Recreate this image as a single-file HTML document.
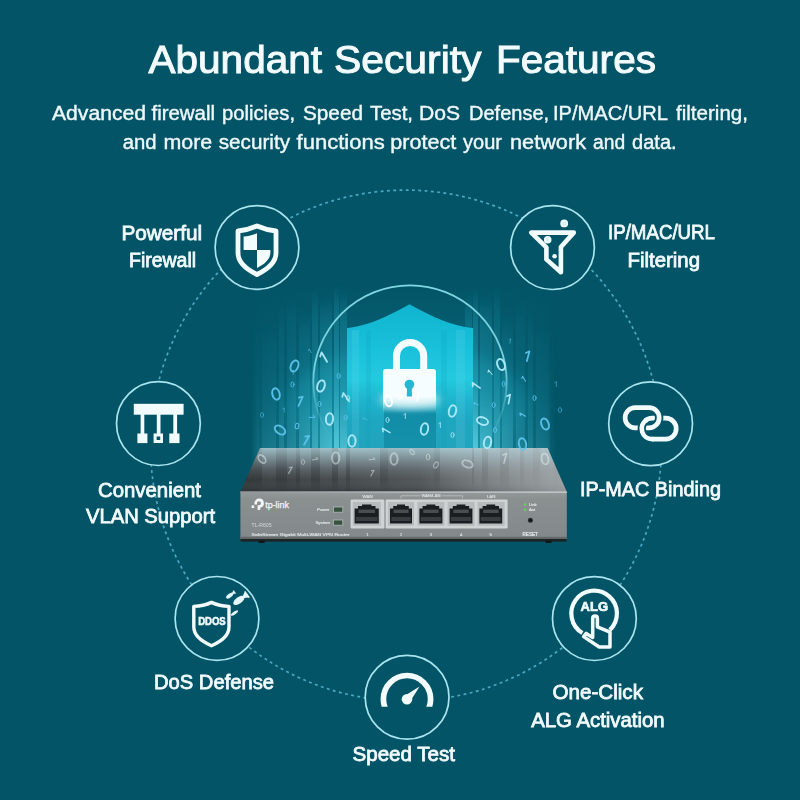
<!DOCTYPE html>
<html lang="en">
<head>
<meta charset="utf-8">
<title>Abundant Security Features</title>
<style>
html,body{margin:0;padding:0;background:#035466;}
body{width:800px;height:800px;overflow:hidden;font-family:"Liberation Sans",sans-serif;}
svg{display:block;}
text{font-family:"Liberation Sans",sans-serif;}
.lbl{font-size:20.5px;fill:#f2fafb;stroke:#f2fafb;stroke-width:.8px;}
.sub{font-size:20px;fill:#eef8fa;stroke:#eef8fa;stroke-width:.4px;}
.ttl{font-size:39.5px;fill:#f4fbfc;stroke:#f4fbfc;stroke-width:1px;}
.ring{fill:#035466;stroke:#a9e4ef;stroke-width:1.7;}
</style>
</head>
<body>
<svg width="800" height="800" viewBox="0 0 800 800">
<defs>
</defs>
<rect width="800" height="800" fill="#035466"/>

<!-- big dashed orbit -->
<circle cx="406" cy="445.6" r="255.5" fill="none" stroke="#4aa8c0" stroke-width="1.7" stroke-dasharray="2.9 3.4"/>

<!-- CENTER-ILLUSTRATION -->
<defs>
  <linearGradient id="beamV" x1="0" y1="0" x2="0" y2="1">
    <stop offset="0" stop-color="#2fbdd6" stop-opacity="0"/>
    <stop offset=".16" stop-color="#2fbdd6" stop-opacity=".32"/>
    <stop offset=".5" stop-color="#3cc6dc" stop-opacity=".55"/>
    <stop offset=".8" stop-color="#66d8ea" stop-opacity="1"/>
    <stop offset="1" stop-color="#66d8ea" stop-opacity="0"/>
  </linearGradient>
  <linearGradient id="washV" x1="0" y1="0" x2="0" y2="1">
    <stop offset="0" stop-color="#1fa6bf" stop-opacity="0"/>
    <stop offset=".4" stop-color="#1fa6bf" stop-opacity=".22"/>
    <stop offset=".8" stop-color="#2fb2c9" stop-opacity=".6"/>
    <stop offset="1" stop-color="#2fb2c9" stop-opacity="0"/>
  </linearGradient>
  <linearGradient id="fadeH" x1="0" y1="0" x2="1" y2="0">
    <stop offset="0" stop-color="#fff" stop-opacity="0"/>
    <stop offset=".03" stop-color="#fff" stop-opacity=".3"/>
    <stop offset=".12" stop-color="#fff" stop-opacity=".5"/>
    <stop offset=".27" stop-color="#fff" stop-opacity="1"/>
    <stop offset=".73" stop-color="#fff" stop-opacity="1"/>
    <stop offset=".88" stop-color="#fff" stop-opacity=".5"/>
    <stop offset=".97" stop-color="#fff" stop-opacity=".3"/>
    <stop offset="1" stop-color="#fff" stop-opacity="0"/>
  </linearGradient>
  <mask id="beamMask" maskUnits="userSpaceOnUse" x="240" y="270" width="330" height="230">
    <rect x="250" y="270" width="306" height="230" fill="url(#fadeH)"/>
  </mask>
  <linearGradient id="shieldG" gradientUnits="userSpaceOnUse" x1="0" y1="304" x2="0" y2="449">
    <stop offset="0" stop-color="#10b4d0"/>
    <stop offset=".3" stop-color="#19c0da"/>
    <stop offset=".52" stop-color="#23cadf"/>
    <stop offset=".66" stop-color="#1fb5ce"/>
    <stop offset=".8" stop-color="#1ea7c1"/>
    <stop offset="1" stop-color="#22a4bc"/>
  </linearGradient>
  <linearGradient id="colG" gradientUnits="userSpaceOnUse" x1="0" y1="400" x2="0" y2="449">
    <stop offset="0" stop-color="#0d819b" stop-opacity="0"/>
    <stop offset=".3" stop-color="#0d819b" stop-opacity=".7"/>
    <stop offset="1" stop-color="#0d819b" stop-opacity=".55"/>
  </linearGradient>
  <linearGradient id="lockG" gradientUnits="userSpaceOnUse" x1="0" y1="369" x2="0" y2="413">
    <stop offset="0" stop-color="#f6fdfe"/>
    <stop offset=".62" stop-color="#f6fdfe"/>
    <stop offset="1" stop-color="#f6fdfe" stop-opacity="0"/>
  </linearGradient>
  <linearGradient id="arcG" gradientUnits="userSpaceOnUse" x1="0" y1="285" x2="0" y2="450">
    <stop offset="0" stop-color="#8fe6f2" stop-opacity=".9"/>
    <stop offset=".5" stop-color="#8fe6f2" stop-opacity=".8"/>
    <stop offset=".72" stop-color="#8fe6f2" stop-opacity=".3"/>
    <stop offset=".95" stop-color="#8fe6f2" stop-opacity="0"/>
  </linearGradient>
  <linearGradient id="topG" x1="0" y1="0" x2="1" y2="0">
    <stop offset="0" stop-color="#34383a"/>
    <stop offset=".35" stop-color="#404446"/>
    <stop offset=".65" stop-color="#565a5c"/>
    <stop offset="1" stop-color="#7b8082"/>
  </linearGradient>
  <linearGradient id="topShade" x1="0" y1="0" x2="0" y2="1">
    <stop offset="0" stop-color="#a6c6cf" stop-opacity=".85"/>
    <stop offset=".25" stop-color="#94b0b9" stop-opacity=".55"/>
    <stop offset=".5" stop-color="#8596a0" stop-opacity=".22"/>
    <stop offset=".72" stop-color="#7d8e94" stop-opacity="0"/>
    <stop offset="1" stop-color="#1d2022" stop-opacity=".3"/>
  </linearGradient>
  <linearGradient id="topLight" x1="0" y1="0" x2="1" y2="0">
    <stop offset="0" stop-color="#b9bfc1" stop-opacity="0"/>
    <stop offset=".55" stop-color="#b9bfc1" stop-opacity="0"/>
    <stop offset="1" stop-color="#b9bfc1" stop-opacity=".55"/>
  </linearGradient>
  <linearGradient id="reflV" x1="0" y1="0" x2="0" y2="1">
    <stop offset="0" stop-color="#bfeaf2" stop-opacity=".55"/>
    <stop offset=".6" stop-color="#c9d6da" stop-opacity=".22"/>
    <stop offset="1" stop-color="#c9d6da" stop-opacity="0"/>
  </linearGradient>
  <linearGradient id="edgeG" x1="0" y1="0" x2="1" y2="0">
    <stop offset="0" stop-color="#8f9495"/>
    <stop offset=".5" stop-color="#b4b9ba"/>
    <stop offset="1" stop-color="#c3c8c9"/>
  </linearGradient>
  <clipPath id="topClip"><path d="M260,448 L547.5,448 L566.8,492 L240.4,492 Z"/></clipPath>
  <linearGradient id="frontG" x1="0" y1="0" x2="0" y2="1">
    <stop offset="0" stop-color="#959a9b"/>
    <stop offset=".15" stop-color="#8a8f90"/>
    <stop offset="1" stop-color="#83888a"/>
  </linearGradient>
  <filter id="b05"><feGaussianBlur stdDeviation=".5"/></filter>
  <filter id="b1" x="-20%" y="-20%" width="140%" height="140%"><feGaussianBlur stdDeviation="1.2"/></filter>
  <filter id="b3" x="-30%" y="-60%" width="160%" height="220%"><feGaussianBlur stdDeviation="4"/></filter>
  <filter id="b6" x="-30%" y="-30%" width="160%" height="160%"><feGaussianBlur stdDeviation="8"/></filter>
</defs>

<!-- soft glow behind -->
<ellipse cx="408" cy="405" rx="120" ry="58" fill="#0b8aa3" opacity=".4" filter="url(#b6)"/>

<!-- light beams -->
<rect x="246" y="283" width="316" height="207" fill="url(#washV)" mask="url(#beamMask)"/>
<g mask="url(#beamMask)" filter="url(#b05)">
  <g fill="url(#beamV)">
    <rect x="252" y="318" width="7" height="172" opacity="0.3"/>
    <rect x="262" y="322" width="14" height="168" opacity="0.42"/>
    <rect x="279" y="300" width="5" height="190" opacity="0.45"/>
    <rect x="287" y="292" width="9" height="198" opacity="0.38"/>
    <rect x="299" y="310" width="11" height="180" opacity="0.5"/>
    <rect x="312" y="286" width="6" height="204" opacity="0.55"/>
    <rect x="320" y="296" width="12" height="194" opacity="0.6"/>
    <rect x="334" y="284" width="5" height="206" opacity="0.75"/>
    <rect x="340" y="288" width="7" height="202" opacity="0.6"/>
    <rect x="553" y="321" width="7" height="169" opacity="0.3"/>
    <rect x="536" y="320" width="14" height="170" opacity="0.42"/>
    <rect x="528" y="303" width="5" height="187" opacity="0.45"/>
    <rect x="516" y="295" width="9" height="195" opacity="0.38"/>
    <rect x="502" y="313" width="11" height="177" opacity="0.5"/>
    <rect x="494" y="284" width="6" height="206" opacity="0.55"/>
    <rect x="480" y="294" width="12" height="196" opacity="0.6"/>
    <rect x="473" y="287" width="5" height="203" opacity="0.75"/>
    <rect x="465" y="291" width="7" height="199" opacity="0.6"/>
  </g>
</g>

<!-- thin halo arc -->
<circle cx="410" cy="382" r="96.7" fill="none" stroke="url(#arcG)" stroke-width="1.8"/>

<!-- shield -->
<path d="M347,328 C362,326.5 380,321 409.5,304.2 C439,321 458,326.5 473,328 L473,449 L347,449 Z" fill="url(#shieldG)"/>
<!-- streaks in shield -->
<rect x="384" y="400" width="52" height="49" fill="url(#colG)"/>
<g>
  <rect x="352" y="330" width="7" height="119" fill="#9fe9f3" opacity=".12"/>
  <rect x="366" y="330" width="5" height="119" fill="#0a9ab5" opacity=".18"/>
  <rect x="441" y="330" width="6" height="119" fill="#0a9ab5" opacity=".18"/>
  <rect x="456" y="330" width="9" height="119" fill="#9fe9f3" opacity=".12"/>
</g>

<!-- lock -->
<ellipse cx="410" cy="400" rx="30" ry="7" fill="#ffffff" opacity=".7" filter="url(#b3)"/>
<path d="M396.5,371 V356 A13.6,13.6 0 0 1 423.7,356 V371" fill="none" stroke="#f4fdfe" stroke-width="7"/>
<path d="M386,369 H433 a3,3 0 0 1 3,3 V413 H383 V372 a3,3 0 0 1 3,-3 Z" fill="url(#lockG)"/>
<circle cx="409.4" cy="384.5" r="4.8" fill="#20b8d2"/>
<path d="M407.2,386 L406.8,396.6 H412 L411.6,386 Z" fill="#20b8d2"/>

<!-- ROUTER -->
<g id="router">
  <!-- shadow under -->
  <rect x="240.5" y="538" width="326" height="3.6" fill="#1d2324"/>
  <rect x="258.5" y="540.6" width="6" height="2.4" fill="#12171a"/>
  <rect x="545.5" y="540.6" width="6" height="2.4" fill="#12171a"/>
  <!-- top surface -->
  <path id="rtop" d="M260,448 L547.5,448 L566.8,492 L240.4,492 Z" fill="url(#topG)"/>
  <path d="M260,448 L547.5,448 L566.8,492 L240.4,492 Z" fill="url(#topShade)"/>
  <path d="M260,448 L547.5,448 L566.8,492 L240.4,492 Z" fill="url(#topLight)"/>
  <!-- beam reflections on top -->
  <g clip-path="url(#topClip)" fill="url(#reflV)">
    <rect x="262" y="448" width="14" height="44" opacity=".35"/>
    <rect x="287" y="448" width="9" height="44" opacity=".3"/>
    <rect x="300" y="448" width="11" height="44" opacity=".4"/>
    <rect x="320" y="448" width="12" height="44" opacity=".45"/>
    <rect x="338" y="448" width="8" height="44" opacity=".5"/>
    <rect x="350" y="448" width="30" height="44" opacity=".45"/>
    <rect x="388" y="448" width="46" height="44" opacity=".25"/>
    <rect x="440" y="448" width="32" height="44" opacity=".45"/>
    <rect x="474" y="448" width="8" height="44" opacity=".5"/>
    <rect x="488" y="448" width="12" height="44" opacity=".45"/>
    <rect x="509" y="448" width="11" height="44" opacity=".4"/>
    <rect x="524" y="448" width="9" height="44" opacity=".3"/>
    <rect x="540" y="448" width="14" height="44" opacity=".3"/>
  </g>
  <!-- front face -->
  <rect x="240.4" y="491.6" width="326.4" height="47.4" fill="url(#frontG)"/>
  <rect x="240.4" y="491.4" width="326.4" height="1.5" fill="url(#edgeG)"/>
  <rect x="240.4" y="536.8" width="326.4" height="2.2" fill="#62676a"/>
  <!-- port frames -->
  <rect x="350.6" y="499.6" width="33.8" height="28.8" rx="1.2" fill="#cfd3d4"/>
  <rect x="385.6" y="499.6" width="122" height="28.8" rx="1.2" fill="#cfd3d4"/>
  <g fill="#b7bbbc">
    <rect x="352.8" y="502" width="28" height="23.8"/>
    <rect x="388" y="502" width="26" height="23.8"/>
    <rect x="417.4" y="502" width="27" height="23.8"/>
    <rect x="447.6" y="502" width="27" height="23.8"/>
    <rect x="477.6" y="502" width="27" height="23.8"/>
  </g>
  <g fill="#1b1e20">
    <path d="M354.6,523.6 V508.5 H358 V506 H362 V504.4 H371.5 V506 H375.5 V508.5 H378.8 V523.6 Z"/>
    <path d="M390,523.6 V508.5 H393.2 V506 H397 V504.4 H405 V506 H408.8 V508.5 H412 V523.6 Z"/>
    <path d="M419.4,523.6 V508.5 H422.6 V506 H426.4 V504.4 H435.4 V506 H439.2 V508.5 H442.4 V523.6 Z"/>
    <path d="M449.6,523.6 V508.5 H452.8 V506 H456.6 V504.4 H465.4 V506 H469.2 V508.5 H472.4 V523.6 Z"/>
    <path d="M479.4,523.6 V508.5 H482.6 V506 H486.4 V504.4 H495.2 V506 H499 V508.5 H502.2 V523.6 Z"/>
  </g>
  <g fill="#4a4e50">
    <rect x="358.5" y="509.6" width="16.5" height="3.4"/>
    <rect x="393.6" y="509.6" width="15" height="3.4"/>
    <rect x="423.2" y="509.6" width="15.4" height="3.4"/>
    <rect x="453.4" y="509.6" width="15.4" height="3.4"/>
    <rect x="483.2" y="509.6" width="15.4" height="3.4"/>
  </g>
  <g fill="#3a3d3f">
    <rect x="356" y="517" width="21.4" height="4"/>
    <rect x="391.4" y="517" width="19.2" height="4"/>
    <rect x="420.8" y="517" width="20.2" height="4"/>
    <rect x="451" y="517" width="20" height="4"/>
    <rect x="480.8" y="517" width="20" height="4"/>
  </g>
  <!-- labels on front -->
  <g fill="#e9edee" stroke="#e9edee" stroke-width=".15" font-size="4.4" text-anchor="middle" opacity=".85">
    <text x="367.6" y="498">WAN</text>
    <text x="431" y="497.4" font-size="4.2">WAN/LAN</text>
    <text x="491.2" y="498">LAN</text>
    <text x="367.4" y="535.6">1</text><text x="401" y="535.6">2</text><text x="431" y="535.6">3</text><text x="461.2" y="535.6">4</text><text x="490.8" y="535.6">5</text>
  </g>
  <path d="M401,498.4 V495.8 H420 M442,495.8 H462.6 V498.4" fill="none" stroke="#dfe3e4" stroke-width=".6" opacity=".8"/>
  <!-- tp-link logo -->
  <g fill="#f4f6f6">
    <path d="M259,498.6 a4.6,4.6 0 0 0 -4.6,4.6 v1.4 h2.6 v-1.4 a2,2 0 1 1 2,2 h-1.4 v4.8 h2.6 v-2.3 a4.6,4.6 0 0 0 -1.2,-9.1 Z"/>
    <path d="M251.6,505.4 h2.6 v2.6 h-2.6 Z"/>
    <text x="265.2" y="508" font-size="9" stroke="#f4f6f6" stroke-width=".25" textLength="23.8" lengthAdjust="spacingAndGlyphs">tp-link</text>
  </g>
  <text x="251.6" y="526.6" font-size="5.2" fill="#e6eaeb" opacity=".8" textLength="20" lengthAdjust="spacingAndGlyphs">TL-R605</text>
  <text x="251.6" y="535.6" font-size="4.4" fill="#f1f4f4" stroke="#f1f4f4" stroke-width=".15" opacity=".85" textLength="98" lengthAdjust="spacingAndGlyphs">SafeStream Gigabit Multi-WAN VPN Router</text>
  <text x="317" y="511.4" font-size="4.4" fill="#f1f4f4" stroke="#f1f4f4" stroke-width=".15" opacity=".85">Power</text>
  <text x="315.4" y="524.4" font-size="4.4" fill="#f1f4f4" stroke="#f1f4f4" stroke-width=".15" opacity=".85">System</text>
  <rect x="333.4" y="507" width="9.4" height="5.2" fill="#35523f" stroke="#b3b8b8" stroke-width=".8"/>
  <rect x="333.4" y="520" width="9.4" height="5.2" fill="#35523f" stroke="#b3b8b8" stroke-width=".8"/>
  <!-- right side leds/reset -->
  <circle cx="525" cy="504.6" r="1.4" fill="#6cc66e"/>
  <circle cx="525" cy="509.8" r="1.4" fill="#6cc66e"/>
  <text x="529" y="506" font-size="4.2" fill="#eef1f1" stroke="#eef1f1" stroke-width=".15" opacity=".9">Link</text>
  <text x="529" y="511.4" font-size="4.2" fill="#eef1f1" stroke="#eef1f1" stroke-width=".15" opacity=".9">Act</text>
  <circle cx="530.4" cy="520.2" r="2.5" fill="#2a2d2f"/>
  <circle cx="530.4" cy="520.2" r="1.2" fill="#0f1112"/>
  <text x="530.2" y="535.8" font-size="4.6" fill="#f1f4f4" stroke="#f1f4f4" stroke-width=".2" text-anchor="middle" opacity=".9">RESET</text>
</g>
<!-- DIGITS -->
<g fill="none" stroke-linecap="round" stroke-linejoin="round">
<ellipse rx="3.60" ry="5.76" transform="translate(294.5 366) rotate(22)" stroke="#5cc4ec" stroke-width="2.00" opacity="0.95"/>
<path d="M-2.55,-2.70 L0.75,-5.40 V5.40" transform="translate(323.7 357.5) rotate(-30)" stroke="#aeeaf8" stroke-width="1.88" opacity="0.95"/>
<ellipse rx="3.60" ry="5.76" transform="translate(321 386) rotate(18)" stroke="#aeeaf8" stroke-width="2.00" opacity="0.95"/>
<ellipse rx="3.60" ry="5.76" transform="translate(276 394) rotate(-15)" stroke="#5cc4ec" stroke-width="2.00" opacity="0.95"/>
<path d="M-2.38,-2.52 L0.70,-5.04 V5.04" transform="translate(300 401) rotate(25)" stroke="#5cc4ec" stroke-width="1.75" opacity="0.95"/>
<ellipse rx="1.57" ry="2.52" transform="translate(292.5 384.5) rotate(0)" stroke="#5cc4ec" stroke-width="0.88" opacity="0.95"/>
<ellipse rx="1.57" ry="2.52" transform="translate(338.7 376) rotate(0)" stroke="#5cc4ec" stroke-width="0.88" opacity="0.95"/>
<ellipse rx="1.57" ry="2.52" transform="translate(319.5 404) rotate(0)" stroke="#5cc4ec" stroke-width="0.88" opacity="0.95"/>
<path d="M-2.38,-2.52 L0.70,-5.04 V5.04" transform="translate(345.7 397.5) rotate(-35)" stroke="#aeeaf8" stroke-width="1.75" opacity="0.95"/>
<ellipse rx="3.60" ry="5.76" transform="translate(329.5 419) rotate(5)" stroke="#aeeaf8" stroke-width="2.00" opacity="0.95"/>
<ellipse rx="3.60" ry="5.76" transform="translate(280 430) rotate(-55)" stroke="#5cc4ec" stroke-width="2.00" opacity="0.95"/>
<ellipse rx="1.80" ry="2.88" transform="translate(297 426) rotate(10)" stroke="#5cc4ec" stroke-width="1.00" opacity="0.95"/>
<path d="M-2.38,-2.52 L0.70,-5.04 V5.04" transform="translate(306 440) rotate(30)" stroke="#5cc4ec" stroke-width="1.75" opacity="0.95"/>
<ellipse rx="3.60" ry="5.76" transform="translate(352 441) rotate(0)" stroke="#aeeaf8" stroke-width="2.00" opacity="0.95"/>
<ellipse rx="1.57" ry="2.52" transform="translate(345.7 417.5) rotate(0)" stroke="#5cc4ec" stroke-width="0.88" opacity="0.95"/>
<ellipse rx="3.38" ry="5.40" transform="translate(388.5 401) rotate(-15)" stroke="#ffffff" stroke-width="1.88" opacity="1"/>
<ellipse rx="1.57" ry="2.52" transform="translate(400 397) rotate(30)" stroke="#ffffff" stroke-width="0.88" opacity="1"/>
<path d="M-2.04,-2.16 L0.60,-4.32 V4.32" transform="translate(417.5 396.5) rotate(15)" stroke="#ffffff" stroke-width="1.50" opacity="1"/>
<ellipse rx="1.57" ry="2.52" transform="translate(387.5 420) rotate(0)" stroke="#aeeaf8" stroke-width="0.88" opacity="0.95"/>
<path d="M-2.04,-2.16 L0.60,-4.32 V4.32" transform="translate(386 431) rotate(-60)" stroke="#aeeaf8" stroke-width="1.50" opacity="0.95"/>
<ellipse rx="3.60" ry="5.76" transform="translate(424.5 429) rotate(10)" stroke="#aeeaf8" stroke-width="2.00" opacity="0.95"/>
<path d="M-1.19,-1.26 L0.35,-2.52 V2.52" transform="translate(405 416) rotate(0)" stroke="#aeeaf8" stroke-width="0.88" opacity="0.95"/>
<path d="M-1.02,-1.08 L0.30,-2.16 V2.16" transform="translate(310 351) rotate(-30)" stroke="#5cc4ec" stroke-width="0.85" opacity="0.6"/>
<path d="M-1.02,-1.08 L0.30,-2.16 V2.16" transform="translate(365 419) rotate(-60)" stroke="#5cc4ec" stroke-width="0.85" opacity="0.6"/>
<path d="M-1.02,-1.08 L0.30,-2.16 V2.16" transform="translate(293 372.5) rotate(0)" stroke="#5cc4ec" stroke-width="0.85" opacity="0.6"/>
<path d="M-1.02,-1.08 L0.30,-2.16 V2.16" transform="translate(284 410) rotate(0)" stroke="#5cc4ec" stroke-width="0.85" opacity="0.6"/>
<path d="M-1.36,-1.44 L0.40,-2.88 V2.88" transform="translate(312 417) rotate(90)" stroke="#5cc4ec" stroke-width="1.00" opacity="0.95"/>
<ellipse rx="3.60" ry="5.76" transform="translate(501 364.5) rotate(-20)" stroke="#aeeaf8" stroke-width="2.00" opacity="0.95"/>
<path d="M-2.38,-2.52 L0.70,-5.04 V5.04" transform="translate(527.5 356) rotate(15)" stroke="#5cc4ec" stroke-width="1.75" opacity="0.95"/>
<path d="M-1.36,-1.44 L0.40,-2.88 V2.88" transform="translate(490 372.5) rotate(-40)" stroke="#aeeaf8" stroke-width="1.00" opacity="0.95"/>
<path d="M-1.02,-1.08 L0.30,-2.16 V2.16" transform="translate(510 341) rotate(10)" stroke="#5cc4ec" stroke-width="0.85" opacity="0.6"/>
<path d="M-2.21,-2.34 L0.65,-4.68 V4.68" transform="translate(476 386) rotate(-55)" stroke="#aeeaf8" stroke-width="1.62" opacity="0.95"/>
<ellipse rx="1.57" ry="2.52" transform="translate(503.7 384) rotate(0)" stroke="#5cc4ec" stroke-width="0.88" opacity="0.95"/>
<path d="M-1.36,-1.44 L0.40,-2.88 V2.88" transform="translate(523.7 379) rotate(-30)" stroke="#5cc4ec" stroke-width="1.00" opacity="0.95"/>
<ellipse rx="1.57" ry="2.52" transform="translate(534.5 398) rotate(0)" stroke="#5cc4ec" stroke-width="0.88" opacity="0.95"/>
<path d="M-2.21,-2.34 L0.65,-4.68 V4.68" transform="translate(508.7 399) rotate(10)" stroke="#aeeaf8" stroke-width="1.62" opacity="0.95"/>
<ellipse rx="3.60" ry="5.76" transform="translate(452.5 411) rotate(12)" stroke="#aeeaf8" stroke-width="2.00" opacity="0.95"/>
<ellipse rx="1.57" ry="2.52" transform="translate(493.7 405) rotate(0)" stroke="#5cc4ec" stroke-width="0.88" opacity="0.95"/>
<path d="M-1.19,-1.26 L0.35,-2.52 V2.52" transform="translate(476 404) rotate(-60)" stroke="#5cc4ec" stroke-width="0.88" opacity="0.95"/>
<ellipse rx="3.60" ry="5.76" transform="translate(482.5 421) rotate(-70)" stroke="#aeeaf8" stroke-width="2.00" opacity="0.95"/>
<ellipse rx="3.60" ry="5.76" transform="translate(545 424) rotate(-20)" stroke="#5cc4ec" stroke-width="2.00" opacity="0.95"/>
<path d="M-1.53,-1.62 L0.45,-3.24 V3.24" transform="translate(522.5 415) rotate(-60)" stroke="#5cc4ec" stroke-width="1.12" opacity="0.95"/>
<ellipse rx="1.57" ry="2.52" transform="translate(495 430) rotate(0)" stroke="#5cc4ec" stroke-width="0.88" opacity="0.95"/>
<ellipse rx="1.57" ry="2.52" transform="translate(452.5 435) rotate(0)" stroke="#aeeaf8" stroke-width="0.88" opacity="0.95"/>
<ellipse rx="3.60" ry="5.76" transform="translate(487.5 442.5) rotate(10)" stroke="#aeeaf8" stroke-width="2.00" opacity="0.95"/>
<ellipse rx="3.60" ry="5.76" transform="translate(522.5 444) rotate(-10)" stroke="#5cc4ec" stroke-width="2.00" opacity="0.95"/>
<ellipse rx="1.57" ry="2.52" transform="translate(348 398) rotate(0)" stroke="#aeeaf8" stroke-width="0.88" opacity="0.95"/>
<ellipse rx="1.57" ry="2.52" transform="translate(560 410) rotate(0)" stroke="#5cc4ec" stroke-width="0.88" opacity="0.6"/>
<path d="M-1.19,-1.26 L0.35,-2.52 V2.52" transform="translate(556 384) rotate(0)" stroke="#5cc4ec" stroke-width="0.88" opacity="0.6"/>
<ellipse rx="1.57" ry="2.52" transform="translate(262 415) rotate(0)" stroke="#5cc4ec" stroke-width="0.88" opacity="0.6"/>
<path d="M-1.19,-1.26 L0.35,-2.52 V2.52" transform="translate(440 425) rotate(0)" stroke="#aeeaf8" stroke-width="0.88" opacity="0.95"/>
</g>
<g fill="none" stroke-linecap="round" stroke-linejoin="round" opacity=".5" filter="url(#b05)">
<ellipse rx="3.60" ry="5.76" transform="translate(335.7 458) rotate(0)" stroke="#e4eef1" stroke-width="2.00" opacity="1"/>
<ellipse rx="3.60" ry="5.76" transform="translate(394 459) rotate(0)" stroke="#e4eef1" stroke-width="2.00" opacity="1"/>
<ellipse rx="3.38" ry="5.40" transform="translate(467.5 464) rotate(-70)" stroke="#e4eef1" stroke-width="1.88" opacity="1"/>
<ellipse rx="3.38" ry="5.40" transform="translate(545 459) rotate(-10)" stroke="#e4eef1" stroke-width="1.88" opacity="1"/>
<path d="M-2.38,-2.52 L0.70,-5.04 V5.04" transform="translate(504.6 458) rotate(15)" stroke="#e4eef1" stroke-width="1.75" opacity="1"/>
<ellipse rx="2.93" ry="4.68" transform="translate(262 459) rotate(-40)" stroke="#e4eef1" stroke-width="1.62" opacity="1"/>
<path d="M-1.70,-1.80 L0.50,-3.60 V3.60" transform="translate(290 470) rotate(30)" stroke="#e4eef1" stroke-width="1.25" opacity="1"/>
<ellipse rx="1.57" ry="2.52" transform="translate(303 462) rotate(0)" stroke="#e4eef1" stroke-width="0.88" opacity="1"/>
<path d="M-1.53,-1.62 L0.45,-3.24 V3.24" transform="translate(372 473) rotate(30)" stroke="#e4eef1" stroke-width="1.12" opacity="1"/>
<ellipse rx="1.80" ry="2.88" transform="translate(428 457) rotate(0)" stroke="#e4eef1" stroke-width="1.00" opacity="1"/>
<ellipse rx="1.80" ry="2.88" transform="translate(412 452) rotate(-40)" stroke="#e4eef1" stroke-width="1.00" opacity="1"/>
<ellipse rx="2.02" ry="3.24" transform="translate(436 465) rotate(30)" stroke="#e4eef1" stroke-width="1.12" opacity="1"/>
<path d="M-1.36,-1.44 L0.40,-2.88 V2.88" transform="translate(315 459) rotate(80)" stroke="#e4eef1" stroke-width="1.00" opacity="1"/>
<path d="M-1.36,-1.44 L0.40,-2.88 V2.88" transform="translate(372 459) rotate(85)" stroke="#e4eef1" stroke-width="1.00" opacity="1"/>
</g>

<!-- feature rings -->
<circle class="ring" cx="257" cy="247.5" r="41.9"/>
<circle class="ring" cx="552.5" cy="247.6" r="41.9"/>
<circle class="ring" cx="158.4" cy="423.6" r="41.9"/>
<circle class="ring" cx="650.6" cy="423.8" r="41.9"/>
<circle class="ring" cx="217" cy="618.4" r="41.9"/>
<circle class="ring" cx="594.4" cy="618.6" r="41.9"/>
<circle class="ring" cx="407.1" cy="697.3" r="41.9"/>

<!-- ICONS -->
<g id="icons" stroke-linejoin="round" stroke-linecap="round">
  <!-- firewall shield -->
  <path d="M257,226 C263,228.6 270,230.4 276,231 V253 C276,262.5 267,269.6 257,274.5 C247,269.6 238,262.5 238,253 V231 C244,230.4 251,228.6 257,226 Z" fill="none" stroke="#f3fcfd" stroke-width="4.8"/>
  <path d="M257,233.2 C252.5,235.2 248,236.2 243.6,236.5 V250 H257 Z" fill="#f3fcfd"/>
  <path d="M257,250 H270.4 V252.6 C270.4,259.6 264,264.6 257,268 Z" fill="#f3fcfd"/>

  <!-- funnel -->
  <path d="M531.3,232.6 H573.8 L560.9,247 V272.2 L546.4,259.4 V247.4 Z" fill="none" stroke="#f3fcfd" stroke-width="4.6"/>
  <circle cx="564.2" cy="223.4" r="3" fill="#d9f3f7" stroke="#f3fcfd" stroke-width="1.8"/>
  <circle cx="547.7" cy="239.8" r="2.9" fill="#d9f3f7" stroke="#f3fcfd" stroke-width="1.8"/>
  <circle cx="554.6" cy="256.2" r="2.3" fill="#f3fcfd"/>

  <!-- vlan -->
  <g fill="#f3fcfd" stroke="none">
    <rect x="133.8" y="403.8" width="49.8" height="10.9"/>
    <rect x="140.6" y="414" width="3.7" height="20"/>
    <rect x="156.8" y="414" width="3.7" height="20"/>
    <rect x="173.3" y="414" width="3.8" height="20"/>
    <rect x="137.4" y="433.5" width="10" height="9.6"/>
    <path d="M153.6,433.5 h9.4 v9.5 h-9.4 Z M156.6,436.5 v3.6 h3.6 v-3.6 Z" fill-rule="evenodd"/>
    <rect x="169.3" y="433.5" width="10.2" height="9.6"/>
  </g>

  <!-- chain links -->
  <g fill="none" stroke-linecap="butt">
    <rect x="641.7" y="418.2" width="34.5" height="21" rx="10.5" stroke="#f3fcfd" stroke-width="4.7"/>
    <rect x="625.1" y="407.7" width="34.1" height="20.1" rx="10.05" stroke="#035466" stroke-width="8.4"/>
    <rect x="625.1" y="407.7" width="34.1" height="20.1" rx="10.05" stroke="#f3fcfd" stroke-width="4.7"/>
    <path d="M652.2,439.2 A10.5,10.5 0 0 1 645.06,421" stroke="#035466" stroke-width="8.4"/>
    <path d="M653.2,439.2 H652.2 A10.5,10.5 0 0 1 646.2,420.1" stroke="#f3fcfd" stroke-width="4.7"/>
  </g>

  <!-- ddos shield -->
  <path d="M211.5,602.4 C217,605 223,606.2 229,606.4 V627 C229,636 220,642 211.5,645.7 C203,642 193.8,636 193.8,627 V606.4 C200,606.2 206,605 211.5,602.4 Z" fill="none" stroke="#f3fcfd" stroke-width="3.4"/>
  <text x="198.2" y="624.5" font-size="10.3" font-weight="bold" fill="#f3fcfd" stroke="#f3fcfd" stroke-width=".55" textLength="27.5" lengthAdjust="spacingAndGlyphs">DDOS</text>
  <!-- bombs -->
  <g fill="#e6f7fa" stroke="none">
    <g transform="translate(229.7 595.6) rotate(-36)">
      <ellipse cx="0" cy="0" rx="4.2" ry="1.9"/>
      <path d="M3.4,-.6 L6.4,-2.2 V2.2 L3.4,.6 Z"/>
    </g>
    <g transform="translate(238.9 600.4) rotate(-36)">
      <ellipse cx="0" cy="0" rx="6.6" ry="3.2"/>
      <path d="M5.4,-1 L10,-3.8 V3.8 L5.4,1 Z"/>
      <rect x="9.4" y="-3.8" width="1.4" height="7.6"/>
    </g>
    <g transform="translate(234.5 613) rotate(-36)">
      <ellipse cx="0" cy="0" rx="4.2" ry="1.4"/>
    </g>
  </g>

  <!-- speedometer -->
  <clipPath id="spClip"><rect x="370" y="660" width="80" height="46.7"/></clipPath>
  <circle cx="407" cy="699.1" r="23.6" fill="none" stroke="#f3fcfd" stroke-width="5.7" clip-path="url(#spClip)"/>
  <circle cx="407" cy="699.2" r="5.3" fill="#f3fcfd"/>
  <path d="M405.2,695.6 L419.6,686.4 L410.4,701 Z" fill="#f3fcfd"/>

  <!-- ALG click -->
  <path d="M582.4,633 A22.8,22.8 0 1 1 609.8,630" fill="none" stroke="#f3fcfd" stroke-width="4.2" stroke-linecap="butt"/>
  <text x="580.6" y="610.5" font-size="13.3" font-weight="bold" fill="#f3fcfd" stroke="#f3fcfd" stroke-width=".7" textLength="27.5" lengthAdjust="spacingAndGlyphs">ALG</text>
  <path d="M592.7,636.6 V618.4 A2.35,2.35 0 0 1 597.4,618.4 V626.8 L610,632.2 V647 H599.2 L583.6,636.6 L586.2,633.4 L592.7,637.4" fill="#035466" stroke="#f3fcfd" stroke-width="3.5"/>
</g>


<!-- headings -->
<text class="ttl" x="148.5" y="72.5" textLength="173.5" lengthAdjust="spacingAndGlyphs">Abundant</text>
<text class="ttl" x="334.0" y="72.5" textLength="147.5" lengthAdjust="spacingAndGlyphs">Security</text>
<text class="ttl" x="495.9" y="72.5" textLength="160.1" lengthAdjust="spacingAndGlyphs">Features</text>
<text class="sub" x="52.0" y="119.5" textLength="94.0" lengthAdjust="spacingAndGlyphs">Advanced</text>
<text class="sub" x="151.5" y="119.5" textLength="63.5" lengthAdjust="spacingAndGlyphs">firewall</text>
<text class="sub" x="222.0" y="119.5" textLength="73.1" lengthAdjust="spacingAndGlyphs">policies,</text>
<text class="sub" x="303.0" y="119.5" textLength="60.0" lengthAdjust="spacingAndGlyphs">Speed</text>
<text class="sub" x="370.0" y="119.5" textLength="43.0" lengthAdjust="spacingAndGlyphs">Test,</text>
<text class="sub" x="418.9" y="119.5" textLength="41.1" lengthAdjust="spacingAndGlyphs">DoS</text>
<text class="sub" x="469.0" y="119.5" textLength="80.1" lengthAdjust="spacingAndGlyphs">Defense,</text>
<text class="sub" x="553.0" y="119.5" textLength="115.0" lengthAdjust="spacingAndGlyphs">IP/MAC/URL</text>
<text class="sub" x="676.0" y="119.5" textLength="72.0" lengthAdjust="spacingAndGlyphs">filtering,</text>
<text class="sub" x="122.7" y="148.7" textLength="33.8" lengthAdjust="spacingAndGlyphs">and</text>
<text class="sub" x="163.4" y="148.7" textLength="48.8" lengthAdjust="spacingAndGlyphs">more</text>
<text class="sub" x="218.7" y="148.7" textLength="71.3" lengthAdjust="spacingAndGlyphs">security</text>
<text class="sub" x="296.5" y="148.7" textLength="88.3" lengthAdjust="spacingAndGlyphs">functions</text>
<text class="sub" x="390.2" y="148.7" textLength="66.0" lengthAdjust="spacingAndGlyphs">protect</text>
<text class="sub" x="463.0" y="148.7" textLength="39.0" lengthAdjust="spacingAndGlyphs">your</text>
<text class="sub" x="510.0" y="148.7" textLength="76.0" lengthAdjust="spacingAndGlyphs">network</text>
<text class="sub" x="593.0" y="148.7" textLength="32.1" lengthAdjust="spacingAndGlyphs">and</text>
<text class="sub" x="632.0" y="148.7" textLength="44.6" lengthAdjust="spacingAndGlyphs">data.</text>

<!-- labels -->
<text class="lbl" x="121.5" y="239.5" textLength="80.6" lengthAdjust="spacingAndGlyphs">Powerful</text>
<text class="lbl" x="129.0" y="266.6" textLength="67.1" lengthAdjust="spacingAndGlyphs">Firewall</text>
<text class="lbl" x="608.0" y="239.4" textLength="107.0" lengthAdjust="spacingAndGlyphs">IP/MAC/URL</text>
<text class="lbl" x="627.5" y="267.3" textLength="72.5" lengthAdjust="spacingAndGlyphs">Filtering</text>
<text class="lbl" x="98.0" y="496.7" textLength="103.0" lengthAdjust="spacingAndGlyphs">Convenient</text>
<text class="lbl" x="86.0" y="523" textLength="129.0" lengthAdjust="spacingAndGlyphs">VLAN Support</text>
<text class="lbl" x="580.0" y="495.7" textLength="141.0" lengthAdjust="spacingAndGlyphs">IP-MAC Binding</text>
<text class="lbl" x="154.0" y="688.6" textLength="120.0" lengthAdjust="spacingAndGlyphs">DoS Defense</text>
<text class="lbl" x="552.5" y="698.7" textLength="90.5" lengthAdjust="spacingAndGlyphs">One-Click</text>
<text class="lbl" x="531.2" y="727" textLength="133.5" lengthAdjust="spacingAndGlyphs">ALG Activation</text>
<text class="lbl" x="352.5" y="760.9" textLength="102.5" lengthAdjust="spacingAndGlyphs">Speed Test</text>
</svg>
</body>
</html>
